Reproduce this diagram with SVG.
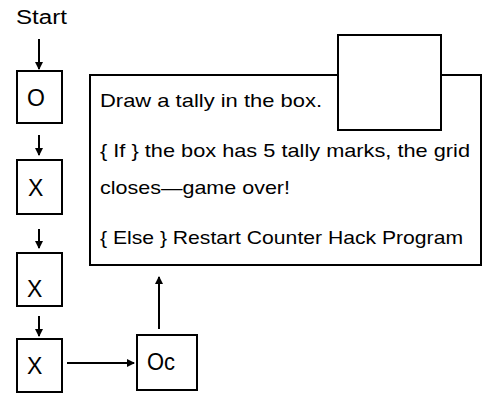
<svg xmlns="http://www.w3.org/2000/svg" width="483" height="393" viewBox="0 0 483 393">
<defs>
<style>
.box{fill:#fff;stroke:#000;stroke-width:2}
.lbl{font-family:"Liberation Sans",Arial,sans-serif;font-size:23px;fill:#000}
.txt{font-family:"Liberation Sans",Arial,sans-serif;font-size:19px;fill:#000}
.con{stroke:#000;stroke-width:2;fill:none;marker-end:url(#ah)}
</style>
<marker id="ah" markerWidth="8" markerHeight="8" refX="7" refY="4" orient="auto" markerUnits="userSpaceOnUse">
<path d="M0,0 L8,4 L0,8 z" fill="#000"/>
</marker>
</defs>
<rect width="483" height="393" fill="#fff"/>
<text id="start" class="txt" x="16" y="24" style="font-size:20px" textLength="51" lengthAdjust="spacingAndGlyphs">Start</text>
<g id="connectors">
<line class="con" x1="39" y1="39" x2="39" y2="69"/>
<line class="con" x1="39" y1="135" x2="39" y2="155"/>
<line class="con" x1="39" y1="229" x2="39" y2="248"/>
<line class="con" x1="39" y1="316" x2="39" y2="336"/>
<line class="con" x1="67" y1="363" x2="134" y2="363"/>
<line class="con" x1="159" y1="329" x2="159" y2="277"/>
</g>
<g id="node-o"><rect class="box" x="17" y="71" width="45" height="52"/><text class="lbl" x="27" y="106">O</text></g>
<g id="node-x1"><rect class="box" x="17" y="160" width="45" height="54"/><text class="lbl" x="28" y="196">X</text></g>
<g id="node-x2"><rect class="box" x="17" y="253" width="45" height="53"/><text class="lbl" x="27" y="297">X</text></g>
<g id="node-x3"><rect class="box" x="17" y="339" width="45" height="53"/><text class="lbl" x="27" y="374">X</text></g>
<g id="node-oc"><rect class="box" x="137" y="335" width="60" height="55"/><text class="lbl" x="147" y="370" textLength="28" lengthAdjust="spacingAndGlyphs">Oc</text></g>
<g id="node-main">
<rect class="box" x="90" y="75" width="391" height="190"/>
<text class="txt" x="100" y="107" textLength="222" lengthAdjust="spacingAndGlyphs">Draw a tally in the box.</text>
<text class="txt" x="100" y="157" textLength="370" lengthAdjust="spacingAndGlyphs">{ If } the box has 5 tally marks, the grid</text>
<text class="txt" x="100" y="194" textLength="190" lengthAdjust="spacingAndGlyphs">closes—game over!</text>
<text class="txt" x="100" y="244" textLength="363" lengthAdjust="spacingAndGlyphs">{ Else } Restart Counter Hack Program</text>
</g>
<g id="node-tally"><rect class="box" x="338" y="35" width="103" height="95"/></g>
</svg>
